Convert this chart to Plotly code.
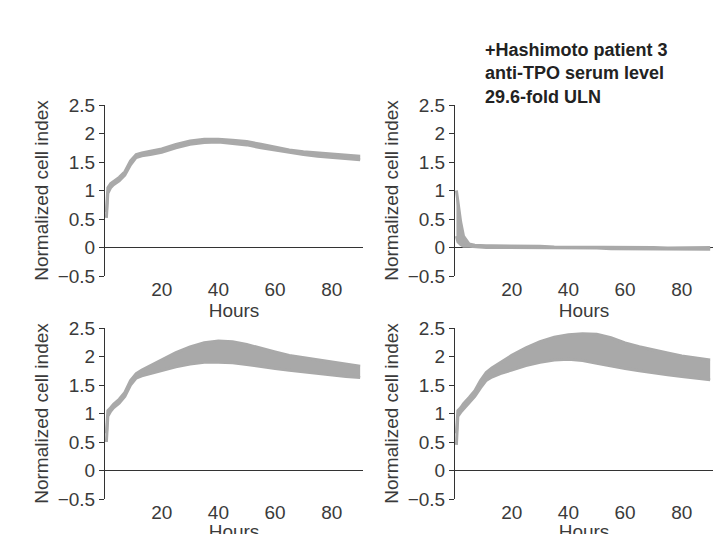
import plotly.graph_objects as go

hours = [0.5, 1, 2, 3, 5, 7, 9, 11, 13, 16, 20, 25, 30, 35, 40, 45, 50, 55, 60, 65, 70, 75, 80, 85, 90]

tl_lo = [0.52, 0.95, 1.05, 1.1, 1.17, 1.27, 1.45, 1.58, 1.61, 1.63, 1.67, 1.75, 1.81, 1.84, 1.85, 1.83, 1.8, 1.75, 1.71, 1.66, 1.63, 1.6, 1.58, 1.56, 1.54]
tl_hi = [0.62, 1.05, 1.12, 1.16, 1.23, 1.33, 1.52, 1.63, 1.66, 1.69, 1.73, 1.81, 1.87, 1.9, 1.9, 1.88, 1.86, 1.81, 1.76, 1.71, 1.68, 1.66, 1.63, 1.61, 1.6]

tr_lo = [0.2, 0.1, 0.05, 0.02, 0.02, 0.01, 0.01, 0.0, 0.0, 0.0, 0.0, 0.0, 0.0, -0.01, -0.01, -0.01, -0.01, -0.02, -0.02, -0.02, -0.02, -0.03, -0.03, -0.03, -0.03]
tr_hi = [1.0, 0.8, 0.45, 0.2, 0.06, 0.04, 0.03, 0.03, 0.03, 0.03, 0.02, 0.02, 0.02, 0.01, 0.01, 0.01, 0.01, 0.0, 0.0, 0.0, 0.0, -0.01, -0.01, -0.01, 0.0]

bl_lo = [0.5, 0.95, 1.04, 1.1, 1.18, 1.3, 1.5, 1.62, 1.66, 1.7, 1.75, 1.82, 1.87, 1.9, 1.9, 1.89, 1.86, 1.82, 1.79, 1.76, 1.73, 1.7, 1.67, 1.65, 1.63]
bl_hi = [0.65, 1.05, 1.1, 1.16, 1.25, 1.37, 1.58, 1.7, 1.76, 1.84, 1.95, 2.07, 2.17, 2.24, 2.27, 2.26, 2.21, 2.14, 2.08, 2.02, 1.98, 1.94, 1.9, 1.86, 1.83]

br_lo = [0.45, 0.95, 1.02, 1.08, 1.18, 1.3, 1.45, 1.58, 1.64, 1.7, 1.76, 1.84, 1.9, 1.94, 1.95, 1.93, 1.88, 1.83, 1.79, 1.75, 1.71, 1.68, 1.65, 1.62, 1.59]
br_hi = [0.65, 1.05, 1.1, 1.17, 1.28, 1.4, 1.58, 1.72, 1.8, 1.9, 2.02, 2.15, 2.26, 2.34, 2.38, 2.4, 2.39, 2.33, 2.24, 2.17, 2.11, 2.06, 2.01, 1.97, 1.94]

panels = [(tl_lo, tl_hi), (tr_lo, tr_hi), (bl_lo, bl_hi), (br_lo, br_hi)]
doms_x = [[97/722, 355/722], [447/722, 705/722]]
doms_y = [[1-268/534, 1-97/534], [1-491/534, 1-320/534]]

fig = go.Figure()
font = dict(family="Liberation Sans, Arial", size=19, color="#3a3a3a")
layout = {}
for i, (lo, hi) in enumerate(panels):
    r, c = divmod(i, 2)
    sfx = "" if i == 0 else str(i + 1)
    xa, ya = "x" + sfx, "y" + sfx
    fig.add_trace(go.Scatter(x=hours, y=lo, mode="lines", line=dict(color="#a9a9a9", width=3),
                             xaxis=xa, yaxis=ya, showlegend=False))
    fig.add_trace(go.Scatter(x=hours, y=hi, mode="lines", line=dict(color="#a9a9a9", width=3),
                             fill="tonexty", fillcolor="#a9a9a9", xaxis=xa, yaxis=ya, showlegend=False))
    layout["xaxis" + sfx] = dict(domain=doms_x[c], anchor=ya, range=[0, 91], tickvals=[20, 40, 60, 80],
                                 showgrid=False, showline=False, zeroline=False, ticks="", automargin=False,
                                 tickfont=font, title=dict(text="Hours", font=font, standoff=4))
    layout["yaxis" + sfx] = dict(domain=doms_y[r], anchor=xa, range=[-0.5, 2.5], automargin=False,
                                 tickvals=[-0.5, 0, 0.5, 1, 1.5, 2, 2.5],
                                 ticktext=["\u22120.5", "0", "0.5", "1", "1.5", "2", "2.5"],
                                 showgrid=False, showline=True, linecolor="#333333", linewidth=1,
                                 ticks="outside", ticklen=5, tickcolor="#333333",
                                 zeroline=True, zerolinecolor="#333333", zerolinewidth=1,
                                 tickfont=font, title=dict(text="Normalized cell index", font=font, standoff=4))
fig.update_layout(**layout)
fig.add_annotation(x=475/722, y=1-30/534, xref="paper", yref="paper", xanchor="left", yanchor="top",
                   align="left", showarrow=False,
                   text="<b>+Hashimoto patient 3<br>anti-TPO serum level<br>29.6-fold ULN</b>",
                   font=dict(family="Liberation Sans, Arial", size=18, color="#222222"))
fig.update_layout(width=722, height=534, margin=dict(l=0, r=0, t=0, b=0),
                  plot_bgcolor="white", paper_bgcolor="white")
fig.write_html("out.html")
